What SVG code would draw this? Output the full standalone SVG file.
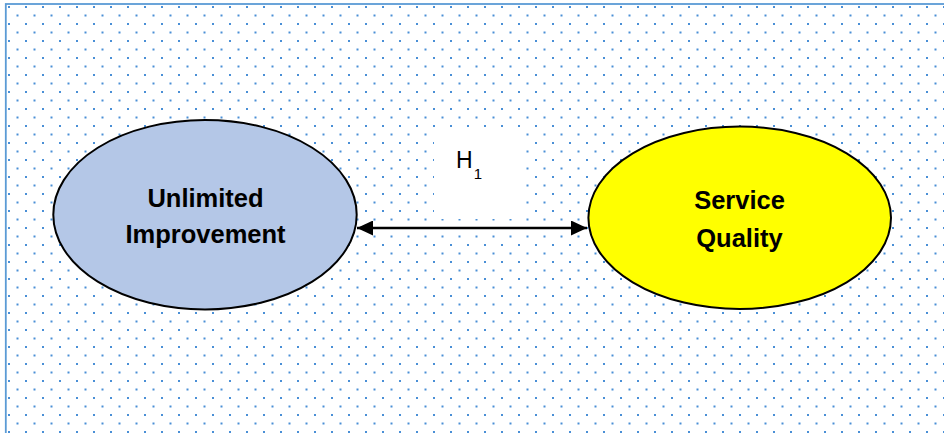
<svg xmlns="http://www.w3.org/2000/svg" width="944" height="433" viewBox="0 0 944 433">
  <style>
    .node-shape { stroke: #000; stroke-width: 2; }
    .node-label { font-family: "Liberation Sans", Arial, sans-serif; font-weight: bold; font-size: 25.5px; fill: #000; text-anchor: middle; }
    .edge { stroke: #000; stroke-width: 2.6; fill: none; }
    .edge-label { font-family: "Liberation Sans", Arial, sans-serif; fill: #000; }
  </style>
  <defs>
    <!-- dotted canvas texture: staggered grid of small blue dots -->
    <pattern id="dots" patternUnits="userSpaceOnUse" x="8" y="6" width="17" height="17">
      <rect x="0" y="0" width="2" height="2" fill="#4a8fd6"/>
      <rect x="8.5" y="8.5" width="2" height="2" fill="#4a8fd6"/>
    </pattern>
    <marker id="arrow" viewBox="0 0 16 15" refX="16" refY="7.5" markerWidth="16" markerHeight="15" markerUnits="userSpaceOnUse" orient="auto-start-reverse">
      <path d="M0,0 L16,7.5 L0,15 z" fill="#000"/>
    </marker>
  </defs>

  <!-- canvas -->
  <rect x="0" y="0" width="944" height="433" fill="#fff"/>
  <rect x="5.8" y="4" width="960" height="460" fill="url(#dots)" stroke="#5b9bd5" stroke-width="1.8"/>

  <!-- connectors -->
  <g id="connectors">
    <rect x="434" y="129" width="88" height="90" fill="#fff"/>
    <line class="edge" x1="357" y1="228" x2="587" y2="228" marker-start="url(#arrow)" marker-end="url(#arrow)"/>
    <text class="edge-label" x="456" y="167.5" font-size="23">H<tspan font-size="15" dx="1" dy="11.5">1</tspan></text>
  </g>

  <!-- nodes -->
  <g id="unlimited-improvement">
    <ellipse class="node-shape" cx="205" cy="214.7" rx="151.7" ry="94.7" fill="#b4c7e7"/>
    <text class="node-label" x="205.5" y="206.7">Unlimited</text>
    <text class="node-label" x="205.5" y="242.7">Improvement</text>
  </g>

  <g id="service-quality">
    <ellipse class="node-shape" cx="739.7" cy="217.8" rx="151.3" ry="91.2" fill="#ffff00"/>
    <text class="node-label" x="739.5" y="209">Service</text>
    <text class="node-label" x="739.5" y="246.5">Quality</text>
  </g>
</svg>
